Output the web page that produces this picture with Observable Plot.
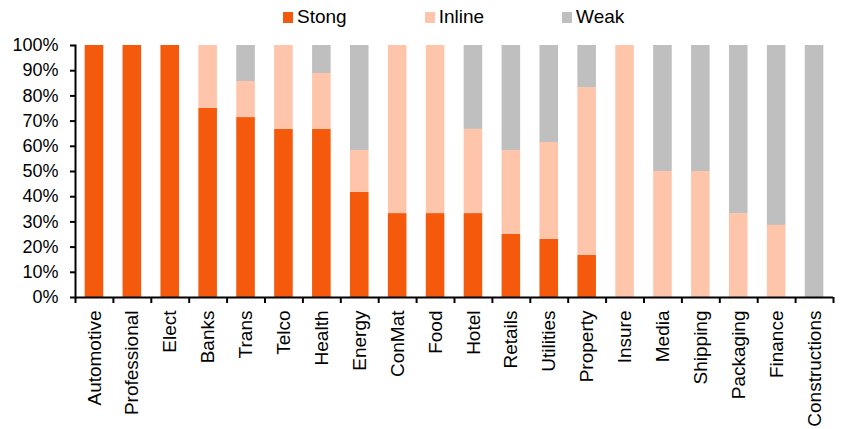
<!DOCTYPE html>
<html>
<head>
<meta charset="utf-8">
<script src="https://cdn.jsdelivr.net/npm/d3@7"></script>
<script src="https://cdn.jsdelivr.net/npm/@observablehq/plot@0.6"></script>
<style>
  html, body { margin: 0; padding: 0; background: #fff; }
  body { width: 843px; height: 429px; overflow: hidden; font-family: "Liberation Sans", Arial, sans-serif; }
  #legend { height: 34px; display: flex; align-items: center; padding-left: 283px; box-sizing: border-box; font-size: 19px; color: #000; }
  .item { display: flex; align-items: center; margin-right: 78px; }
  .sw { width: 10px; height: 11px; margin-right: 4px; }
</style>
</head>
<body>
<div id="legend"></div>
<div id="chart"></div>
<script>
const categories = ["Automotive","Professional","Elect","Banks","Trans","Telco","Health","Energy","ConMat","Food","Hotel","Retails","Utilities","Property","Insure","Media","Shipping","Packaging","Finance","Constructions"];
const strong = [100,100,100,75,71.4,66.7,66.7,41.7,33.3,33.3,33.3,25,23.1,16.7,0,0,0,0,0,0];
const inline = [0,0,0,25,14.3,33.3,22.2,16.6,66.7,66.7,33.4,33.3,38.4,66.6,100,50,50,33.3,28.6,0];
const weak   = [0,0,0,0,14.3,0,11.1,41.7,0,0,33.3,41.7,38.5,16.7,0,50,50,66.7,71.4,100];
const seriesNames = ["Stong","Inline","Weak"];
const seriesColors = ["#F4590C","#FFC5AB","#BFBFBF"];
const yTicks = [0,10,20,30,40,50,60,70,80,90,100];

const legend = document.getElementById("legend");
seriesNames.forEach((n, i) => {
  const it = document.createElement("div");
  it.className = "item";
  it.innerHTML = `<div class="sw" style="background:${seriesColors[i]}"></div><span>${n}</span>`;
  legend.appendChild(it);
});

const data = [];
categories.forEach((c, i) => {
  data.push({cat: c, series: "Stong", value: strong[i]});
  data.push({cat: c, series: "Inline", value: inline[i]});
  data.push({cat: c, series: "Weak", value: weak[i]});
});

const width = 843, height = 395, marginLeft = 75, marginRight = 10, marginTop = 11, marginBottom = 132;
const step = (width - marginLeft - marginRight) / categories.length;
const last = categories[categories.length - 1];

const chart = Plot.plot({
  width, height, marginLeft, marginRight, marginTop, marginBottom,
  style: {fontFamily: "Liberation Sans, Arial, sans-serif", color: "#000", background: "#fff"},
  x: {domain: categories, paddingInner: 0.51, paddingOuter: 0.255, round: false, label: null, axis: null},
  y: {domain: [0, 100], label: null, axis: null},
  color: {domain: seriesNames, range: seriesColors},
  marks: [
    Plot.barY(data, Plot.stackY({x: "cat", y: "value", fill: "series", z: "series", order: seriesNames})),
    Plot.axisY({ticks: yTicks, tickFormat: d => d + "%", tickSize: 5, tickPadding: 12, fontSize: 18, strokeWidth: 2, label: null}),
    Plot.axisX({tickSize: 0, tickPadding: 13, tickRotate: -90, fontSize: 19, label: null}),
    Plot.axisX({tickSize: 6, tickFormat: () => "", dx: -step / 2, strokeWidth: 2, label: null}),
    Plot.axisX({ticks: [last], tickSize: 6, tickFormat: () => "", dx: step / 2, strokeWidth: 2, label: null}),
    Plot.ruleY([0], {stroke: "#000", strokeWidth: 2}),
    Plot.frame({anchor: "left", stroke: "#000", strokeWidth: 2})
  ]
});
document.getElementById("chart").appendChild(chart);
</script>
</body>
</html>
